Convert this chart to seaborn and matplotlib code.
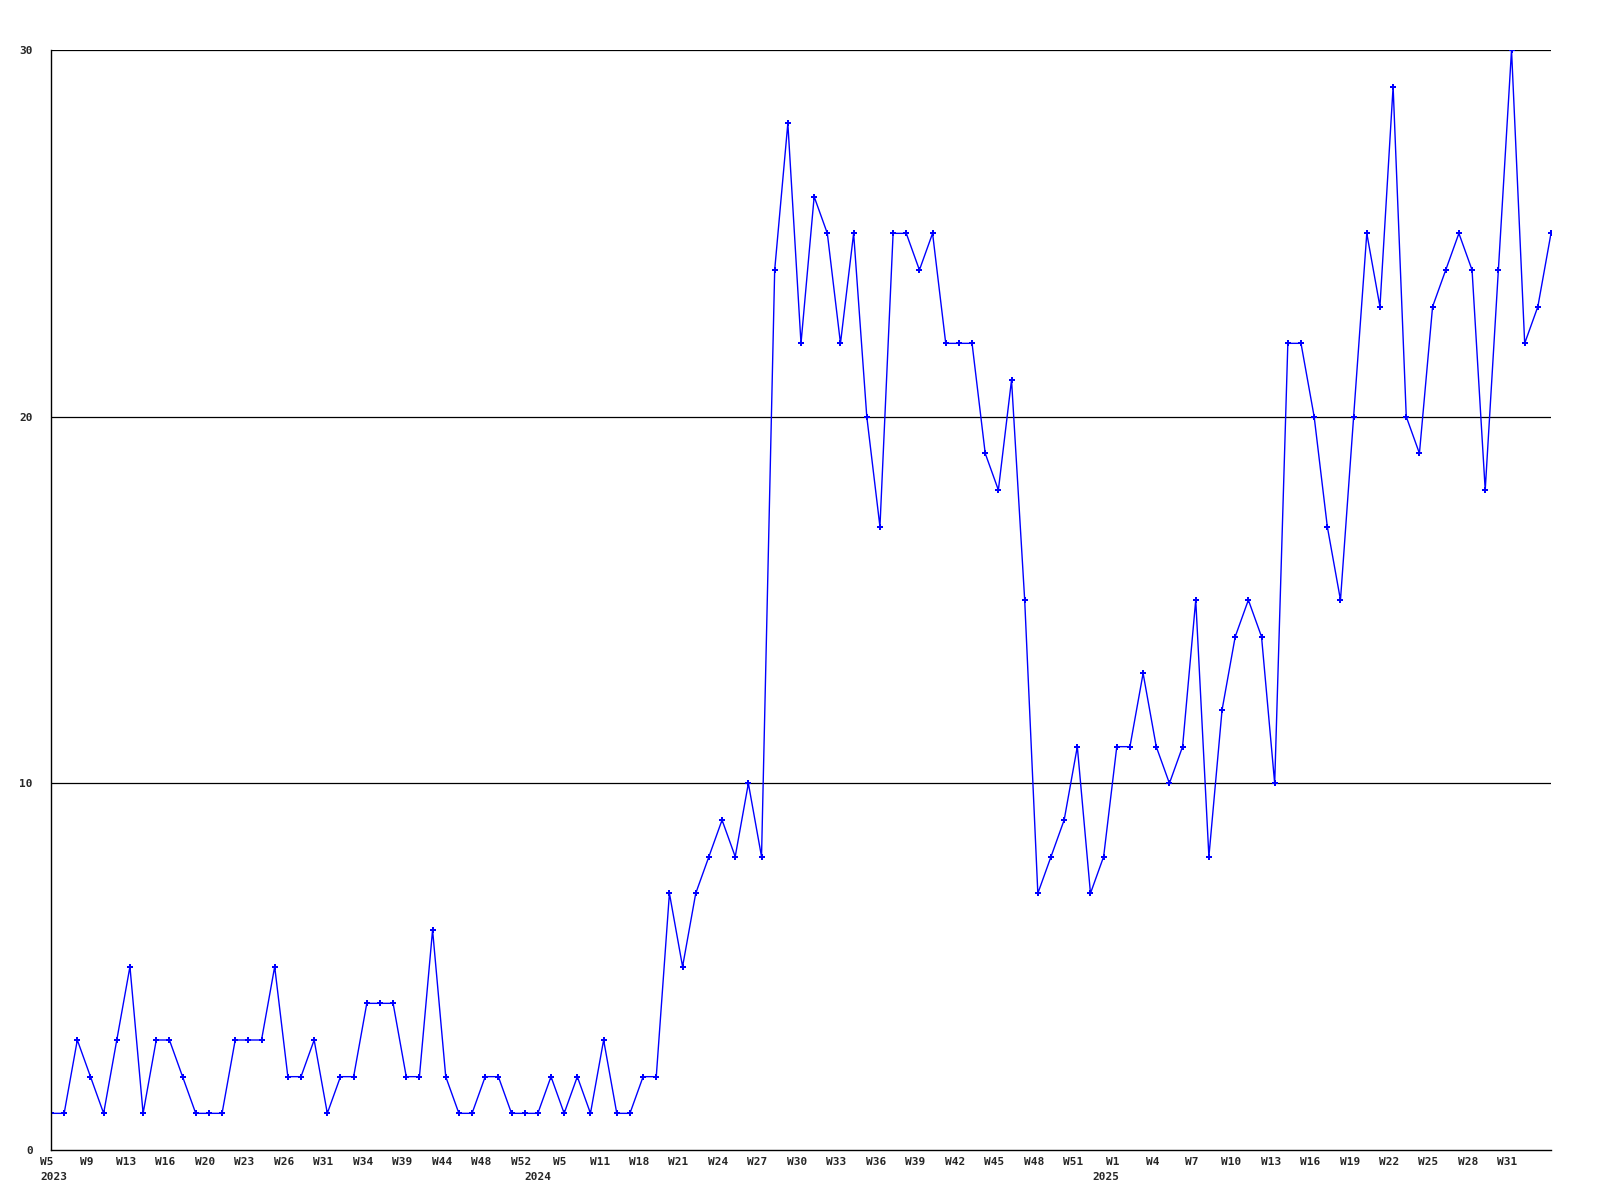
import matplotlib
matplotlib.use("Agg")
import matplotlib.pyplot as plt
import matplotlib.transforms as mtransforms
import seaborn as sns
import pandas as pd
import numpy as np

# weekly counts, 2023 W5 -> 2025 W34 (one point per week in the source)
counts = [
    1, 1, 3, 2, 1, 3, 5, 1, 3, 3,
    2, 1, 1, 1, 3, 3, 3, 5, 2, 2,
    3, 1, 2, 2, 4, 4, 4, 2, 2, 6,
    2, 1, 1, 2, 2, 1, 1, 1, 2, 1,
    2, 1, 3, 1, 1, 2, 2, 7, 5, 7,
    8, 9, 8, 10, 8, 24, 28, 22, 26, 25,
    22, 25, 20, 17, 25, 25, 24, 25, 22, 22,
    22, 19, 18, 21, 15, 7, 8, 9, 11, 7,
    8, 11, 11, 13, 11, 10, 11, 15, 8, 12,
    14, 15, 14, 10, 22, 22, 20, 17, 15, 20,
    25, 23, 29, 20, 19, 23, 24, 25, 24, 18,
    24, 30, 22, 23, 25,
]

# a label every third point
week_labels = [
    "W5", "W9", "W13", "W16", "W20", "W23", "W26", "W31", "W34", "W39",
    "W44", "W48", "W52", "W5", "W11", "W18", "W21", "W24", "W27", "W30",
    "W33", "W36", "W39", "W42", "W45", "W48", "W51", "W1", "W4", "W7",
    "W10", "W13", "W16", "W19", "W22", "W25", "W28", "W31",
]
label_step = 3

# year captions and the point index where each year starts
years = ["2023", "2024", "2025"]
year_starts = [0.2, 37, 80.2]

y_ticks = [0, 10, 20, 30]

df = pd.DataFrame({"idx": np.arange(len(counts)), "count": counts})

sns.set_style("white")
plt.rcParams["font.family"] = ["DejaVu Sans Mono", "DejaVu Sans"]

fig = plt.figure(figsize=(16, 12), dpi=100)
ax = fig.add_axes([51 / 1600, 1 - 1150 / 1200, 1500 / 1600, 1100 / 1200])

sns.lineplot(
    data=df, x="idx", y="count", ax=ax,
    color="#0000ff", linewidth=1.0,
    marker="P", markersize=4.5, markeredgewidth=0,
    markerfacecolor="#0000ff",
)

ax.set_xlim(0, len(counts) - 1)
ax.set_ylim(0, 30)

ax.set_yticks(y_ticks)
ax.set_yticklabels([str(t) for t in y_ticks], fontsize=8, fontweight="bold")
for t in y_ticks[1:]:
    ax.axhline(t, color="black", linewidth=0.9, zorder=0)

ax.set_xticks(np.arange(len(week_labels)) * label_step)
ax.set_xticklabels(week_labels, fontsize=8, fontweight="bold")
ax.tick_params(axis="both", length=0)
ax.tick_params(axis="x", pad=5)
ax.tick_params(axis="y", pad=13)

# labels sit a few pixels left of their points in the original
shift = mtransforms.ScaledTranslation(-4 / 100, 0, fig.dpi_scale_trans)
for lbl in ax.get_xticklabels():
    lbl.set_transform(lbl.get_transform() + shift)

trans = mtransforms.blended_transform_factory(ax.transData, ax.transAxes)
for yr, pos in zip(years, year_starts):
    ax.text(pos, -0.0245, yr, transform=trans, ha="center", va="center",
            fontsize=8, fontweight="bold")

ax.set_xlabel("")
ax.set_ylabel("")
for side in ["top", "right"]:
    ax.spines[side].set_visible(False)
for side in ["left", "bottom"]:
    ax.spines[side].set_color("black")
    ax.spines[side].set_linewidth(1.0)

fig.savefig("out.png", dpi=100, facecolor="white")
